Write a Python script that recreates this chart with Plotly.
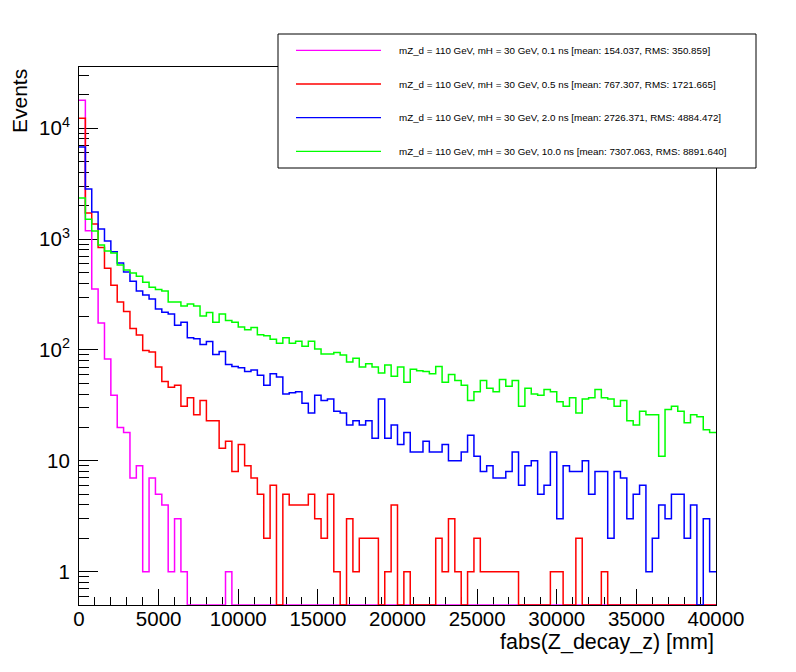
import numpy as np
import plotly.graph_objects as go

# 100 bins of 400 mm between 0 and 40000 mm
bin_edges = np.linspace(0, 40000, 101)

labels = [
    "mZ_d = 110 GeV, mH = 30 GeV, 0.1 ns [mean: 154.037, RMS: 350.859]",
    "mZ_d = 110 GeV, mH = 30 GeV, 0.5 ns [mean: 767.307, RMS: 1721.665]",
    "mZ_d = 110 GeV, mH = 30 GeV, 2.0 ns [mean: 2726.371, RMS: 4884.472]",
    "mZ_d = 110 GeV, mH = 30 GeV, 10.0 ns [mean: 7307.063, RMS: 8891.640]",
]
colors = ["#ff00ff", "#ff0000", "#0000ff", "#00ff00"]

counts_01ns = [
    17900, 1188, 354, 175, 83, 39, 20, 18, 7, 9,
    1, 7, 5, 4, 1, 3, 1, 0, 0, 0,
    0, 0, 0, 1, 0, 0, 0, 0, 0, 0,
    0, 0, 0, 0, 0, 0, 0, 0, 0, 0,
    0, 0, 0, 0, 0, 0, 0, 0, 0, 0,
    0, 0, 0, 0, 0, 0, 0, 0, 0, 0,
    0, 0, 0, 0, 0, 0, 0, 0, 0, 0,
    0, 0, 0, 0, 0, 0, 0, 0, 0, 0,
    0, 0, 0, 0, 0, 0, 0, 0, 0, 0,
    0, 0, 0, 0, 0, 0, 0, 0, 0, 0,
]
counts_05ns = [
    12300, 1720, 1366, 840, 545, 383, 270, 222, 156, 136,
    99, 96, 70, 52, 46, 48, 31, 37, 26, 35,
    23, 23, 13, 15, 8, 14, 9, 7, 5, 2,
    6, 0, 5, 4, 4, 4, 5, 3, 2, 5,
    1, 0, 3, 1, 2, 2, 2, 0, 1, 4,
    0, 1, 0, 0, 0, 0, 2, 1, 3, 1,
    0, 1, 2, 1, 1, 1, 1, 1, 1, 0,
    0, 0, 0, 0, 1, 1, 0, 0, 2, 0,
    0, 0, 1, 0, 0, 0, 0, 0, 0, 0,
    0, 0, 0, 0, 0, 0, 0, 0, 0, 0,
]
counts_2ns = [
    6780, 2830, 1750, 1230, 960, 770, 607, 505, 416, 340,
    313, 288, 234, 219, 211, 167, 178, 129, 126, 112,
    119, 91, 97, 74, 71, 69, 64, 66, 59, 48,
    61, 57, 40, 41, 42, 33, 27, 39, 35, 36,
    28, 27, 21, 23, 21, 23, 16, 36, 16, 21,
    14, 18, 12, 12, 15, 12, 12, 14, 10, 10,
    12, 17, 11, 8, 9, 7, 7, 8, 12, 6,
    9, 10, 5, 6, 12, 3, 9, 8, 8, 10,
    5, 8, 8, 2, 8, 7, 3, 5, 6, 1,
    2, 4, 3, 5, 5, 2, 4, 0, 3, 1,
]
counts_10ns = [
    2340, 1510, 1185, 883, 780, 748, 583, 525, 495, 462,
    407, 368, 350, 340, 270, 270, 249, 260, 249, 202,
    218, 178, 211, 184, 178, 161, 152, 159, 137, 134,
    125, 115, 129, 115, 120, 108, 120, 102, 92, 92,
    95, 90, 78, 84, 70, 75, 70, 62, 73, 58,
    70, 51, 67, 65, 64, 61, 71, 51, 60, 53,
    48, 35, 42, 53, 45, 42, 54, 47, 53, 31,
    45, 40, 39, 44, 42, 34, 31, 37, 27, 36,
    37, 44, 37, 36, 31, 35, 23, 21, 28, 26,
    26, 11, 29, 31, 28, 22, 26, 25, 19, 18,
]
all_counts = [counts_01ns, counts_05ns, counts_2ns, counts_10ns]

x_ticks = [0, 5000, 10000, 15000, 20000, 25000, 30000, 35000, 40000]
x_ticktext = ["0", "5000", "10000", "15000", "20000", "25000", "30000", "35000", "40000"]
y_ticks = [1, 10, 100, 1000, 10000]
y_ticktext = ["1", "10", "10<sup>2</sup>", "10<sup>3</sup>", "10<sup>4</sup>"]

y_range = [-0.301, 4.552]
y_floor = 10 ** y_range[0]   # empty bins run along the bottom of the frame, like ROOT

# the page body has an 8 px margin, so the figure is 8 px smaller than the window
OFF = 8
W, H = 796 - OFF, 672 - OFF
L, T = 79 - OFF, 67 - OFF
R, B = W - (716 - OFF), H - (605 - OFF)
font = "Liberation Sans, Arial, Helvetica, sans-serif"


# window pixel -> paper fraction
def px_x(x):
    return (x - OFF - L) / (W - L - R)


def px_y(y):
    return (H - B - (y - OFF)) / (H - T - B)


fig = go.Figure()

for name, counts, color in zip(labels, all_counts, colors):
    c = np.array(counts, dtype=float)
    c = np.where(c > 0, c, y_floor)
    fig.add_trace(go.Scatter(
        x=bin_edges,
        y=np.append(c, c[-1]),
        mode="lines",
        line=dict(color=color, width=1.5, shape="hv"),
        name=name,
        showlegend=False,
    ))

minor_y = [k * 10.0 ** d for d in range(-1, 5) for k in range(2, 10)
           if y_range[0] < np.log10(k * 10.0 ** d) < y_range[1]]

fig.update_layout(
    width=W, height=H,
    margin=dict(l=L, r=R, t=T, b=B),
    paper_bgcolor="white",
    plot_bgcolor="white",
    font=dict(family=font, color="black"),
    xaxis=dict(
        range=[0, 40000],
        tickmode="array", tickvals=x_ticks, ticktext=x_ticktext,
        ticks="inside", ticklen=16, tickwidth=1, tickcolor="black",
        minor=dict(dtick=1000, tick0=0, ticks="inside", ticklen=8, tickcolor="black"),
        showline=True, linecolor="black", linewidth=1, mirror=True,
        showgrid=False, zeroline=False,
        tickfont=dict(size=20.5, family=font),
        ticklabelstandoff=-5,
        layer="below traces",
    ),
    yaxis=dict(
        type="log",
        range=y_range,
        tickmode="array", tickvals=y_ticks, ticktext=y_ticktext,
        ticks="inside", ticklen=19, tickwidth=1, tickcolor="black",
        minor=dict(tickmode="array", tickvals=minor_y, ticks="inside", ticklen=10, tickcolor="black"),
        showline=True, linecolor="black", linewidth=1, mirror=True,
        showgrid=False, zeroline=False,
        tickfont=dict(size=20.5, family=font),
        ticklabelstandoff=4,
        layer="below traces",
    ),
)

# axis titles, ROOT style (right / top aligned)
fig.add_annotation(
    text="fabs(Z_decay_z) [mm]", xref="paper", yref="paper",
    x=1, y=px_y(642), xanchor="right", yanchor="middle",
    showarrow=False, font=dict(size=21.5, family=font),
)
fig.add_annotation(
    text="Events", xref="paper", yref="paper", textangle=-90,
    x=px_x(19), y=1, xanchor="center", yanchor="top",
    showarrow=False, font=dict(size=21, family=font),
)

# legend box
fig.add_shape(
    type="rect", xref="paper", yref="paper", layer="above",
    x0=px_x(278), x1=px_x(756), y0=px_y(168), y1=px_y(34),
    line=dict(color="black", width=1), fillcolor="white",
)
row_y = [50.3, 84, 117.7, 151.3]
for name, color, ry in zip(labels, colors, row_y):
    fig.add_shape(
        type="line", xref="paper", yref="paper", layer="above",
        x0=px_x(296), x1=px_x(381), y0=px_y(ry), y1=px_y(ry),
        line=dict(color=color, width=1.3),
    )
    fig.add_annotation(
        text=name, xref="paper", yref="paper",
        x=px_x(397), y=px_y(ry), xanchor="left", yanchor="middle",
        showarrow=False, font=dict(size=9.8, family=font),
    )

fig.write_html("out.html")
